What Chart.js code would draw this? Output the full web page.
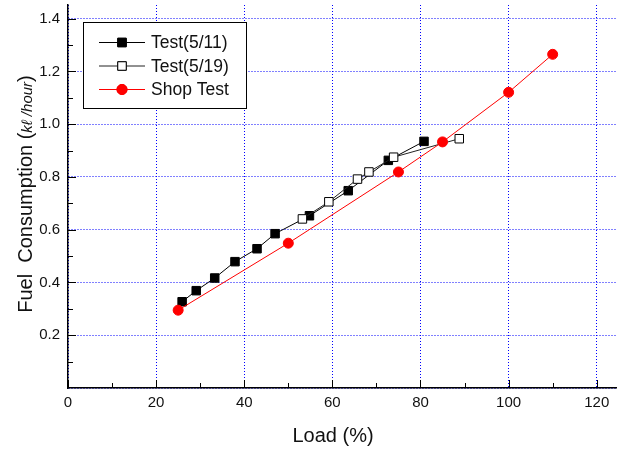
<!DOCTYPE html>
<html>
<head>
<meta charset="utf-8">
<script src="https://cdn.jsdelivr.net/npm/chart.js@4"></script>
<style>
  html, body { margin: 0; padding: 0; background: #fff; }
  #wrap { width: 617px; height: 449px; }
</style>
</head>
<body>
<div id="wrap"><canvas id="fuelChart" width="617" height="449"></canvas></div>
<script>
// Load (%) and fuel consumption
const load511 = [25.9, 29.1, 33.3, 37.9, 42.9, 47.0, 54.8, 63.6, 72.7, 80.8];
const fuel511 = [0.327, 0.369, 0.417, 0.479, 0.528, 0.585, 0.653, 0.748, 0.863, 0.935];

const load519 = [53.2, 59.2, 65.7, 68.3, 73.9, 88.8];
const fuel519 = [0.641, 0.706, 0.792, 0.819, 0.875, 0.945];

const loadShop = [25, 50, 75, 85, 100, 110];
const fuelShop = [0.295, 0.549, 0.819, 0.933, 1.121, 1.265];

const seriesNames = ['Test(5/11)', 'Test(5/19)', 'Shop Test'];
const xTicks = [0, 20, 40, 60, 80, 100, 120];
const yTicks = [0.2, 0.4, 0.6, 0.8, 1.0, 1.2, 1.4];

const FONT = "'Liberation Sans', Arial, sans-serif";

function toPoints(xs, ys) {
    return xs.map((x, i) => ({ x: x, y: ys[i] }));
}

// Legend box, axis titles and inward ticks (Origin style)
const decorPlugin = {
    id: 'decor',
    afterDraw(chart) {
        const ctx = chart.ctx;
        const xs = chart.scales.x;
        const ys = chart.scales.y;
        const area = chart.chartArea;

        ctx.save();
        ctx.strokeStyle = '#000';
        ctx.lineWidth = 1;

        // x ticks (major + minor), pointing inward
        for (let v = 0; v <= 120; v += 10) {
            const px = Math.round(xs.getPixelForValue(v)) + 0.5;
            const len = (v % 20 === 0) ? 8 : 5;
            ctx.beginPath();
            ctx.moveTo(px, area.bottom);
            ctx.lineTo(px, area.bottom - len);
            ctx.stroke();
        }
        // y ticks
        for (let k = 1; k <= 14; k++) {
            const v = k / 10;
            const py = Math.round(ys.getPixelForValue(v)) + 0.5;
            const len = (k % 2 === 0) ? 8 : 5;
            ctx.beginPath();
            ctx.moveTo(area.left, py);
            ctx.lineTo(area.left + len, py);
            ctx.stroke();
        }

        // x title
        ctx.fillStyle = '#111';
        ctx.font = '20px ' + FONT;
        ctx.textAlign = 'center';
        ctx.textBaseline = 'middle';
        ctx.fillText('Load (%)', 333, 436);

        // y title with smaller unit
        const parts = [
            { t: 'Fuel  Consumption (', f: '20px ' + FONT },
            { t: 'kℓ /hour', f: 'italic 15px ' + FONT },
            { t: ')', f: '20px ' + FONT }
        ];
        let total = 0;
        parts.forEach(p => { ctx.font = p.f; p.w = ctx.measureText(p.t).width; total += p.w; });
        ctx.translate(25, 194);
        ctx.rotate(-Math.PI / 2);
        ctx.textAlign = 'left';
        ctx.textBaseline = 'alphabetic';
        let cx = -total / 2;
        parts.forEach(p => {
            ctx.font = p.f;
            ctx.fillText(p.t, cx, 7);
            cx += p.w;
        });
        ctx.setTransform(1, 0, 0, 1, 0, 0);

        // legend
        ctx.fillStyle = '#fff';
        ctx.fillRect(83.5, 22.5, 163, 86);
        ctx.strokeStyle = '#000';
        ctx.lineWidth = 1;
        ctx.strokeRect(83.5, 22.5, 163, 86);

        const rows = [42.5, 66, 89.5];
        const legendSets = [2, 1, 0]; // dataset indexes in legend order
        legendSets.forEach((di, r) => {
            const ds = chart.data.datasets[di];
            const y = rows[r];
            ctx.strokeStyle = ds.borderColor;
            ctx.lineWidth = 1;
            ctx.beginPath();
            ctx.moveTo(99, y);
            ctx.lineTo(145, y);
            ctx.stroke();
            Chart.helpers.drawPoint(ctx, {
                pointStyle: ds.pointStyle,
                radius: ds.pointRadius,
                borderWidth: ds.pointBorderWidth
            }, 122, y);
            ctx.fillStyle = ds.pointBackgroundColor;
            ctx.strokeStyle = ds.pointBorderColor;
            ctx.fill();
            ctx.stroke();

            ctx.fillStyle = '#111';
            ctx.font = '17.5px ' + FONT;
            ctx.textAlign = 'left';
            ctx.textBaseline = 'middle';
            ctx.fillText(ds.label, 151, y + 1);
        });
        ctx.restore();
    }
};

const ctx = document.getElementById('fuelChart');
new Chart(ctx, {
    type: 'line',
    data: {
        datasets: [
            {
                label: seriesNames[2],
                data: toPoints(loadShop, fuelShop),
                borderColor: '#ff0000',
                borderWidth: 1,
                pointStyle: 'circle',
                pointRadius: 5,
                pointBorderWidth: 1,
                pointBackgroundColor: '#ff0000',
                pointBorderColor: '#ff0000',
                order: 0
            },
            {
                label: seriesNames[1],
                data: toPoints(load519, fuel519),
                borderColor: '#222',
                borderWidth: 1,
                pointStyle: 'rect',
                pointRadius: 6,
                pointBorderWidth: 1,
                pointBackgroundColor: '#fff',
                pointBorderColor: '#000',
                order: 1
            },
            {
                label: seriesNames[0],
                data: toPoints(load511, fuel511),
                borderColor: '#000',
                borderWidth: 1,
                pointStyle: 'rect',
                pointRadius: 6,
                pointBorderWidth: 1,
                pointBackgroundColor: '#000',
                pointBorderColor: '#000',
                order: 2
            }
        ]
    },
    options: {
        responsive: false,
        animation: false,
        layout: {
            autoPadding: false,
            padding: { top: 5, right: 0, bottom: 0, left: 0 }
        },
        plugins: {
            legend: { display: false },
            tooltip: { enabled: false }
        },
        elements: { line: { tension: 0 } },
        scales: {
            x: {
                type: 'linear',
                min: 0,
                max: 124.6,
                afterFit: (scale) => {
                    scale.height = 61;
                    scale.paddingLeft = 0;
                    scale.paddingRight = 0;
                },
                afterBuildTicks: (scale) => {
                    scale.ticks = xTicks.map(v => ({ value: v }));
                },
                ticks: {
                    includeBounds: false,
                    padding: 6,
                    color: '#111',
                    font: { family: FONT, size: 15 },
                    maxRotation: 0
                },
                grid: { color: '#0000ff', lineWidth: 1, drawTicks: false },
                border: { display: true, color: '#000', width: 1.5, dash: [1, 2] }
            },
            y: {
                type: 'linear',
                min: 0,
                max: 1.452,
                afterFit: (scale) => {
                    scale.width = 68;
                    scale.paddingTop = 0;
                    scale.paddingBottom = 0;
                },
                afterBuildTicks: (scale) => {
                    scale.ticks = [0].concat(yTicks).map(v => ({ value: v }));
                },
                ticks: {
                    includeBounds: false,
                    padding: 8,
                    color: '#111',
                    font: { family: FONT, size: 15 },
                    callback: (v) => (v === 0 ? '' : v.toFixed(1))
                },
                grid: { color: '#0000ff', lineWidth: 1, drawTicks: false },
                border: { display: true, color: '#000', width: 1.5, dash: [1, 2] }
            }
        }
    },
    plugins: [decorPlugin]
});
</script>
</body>
</html>
